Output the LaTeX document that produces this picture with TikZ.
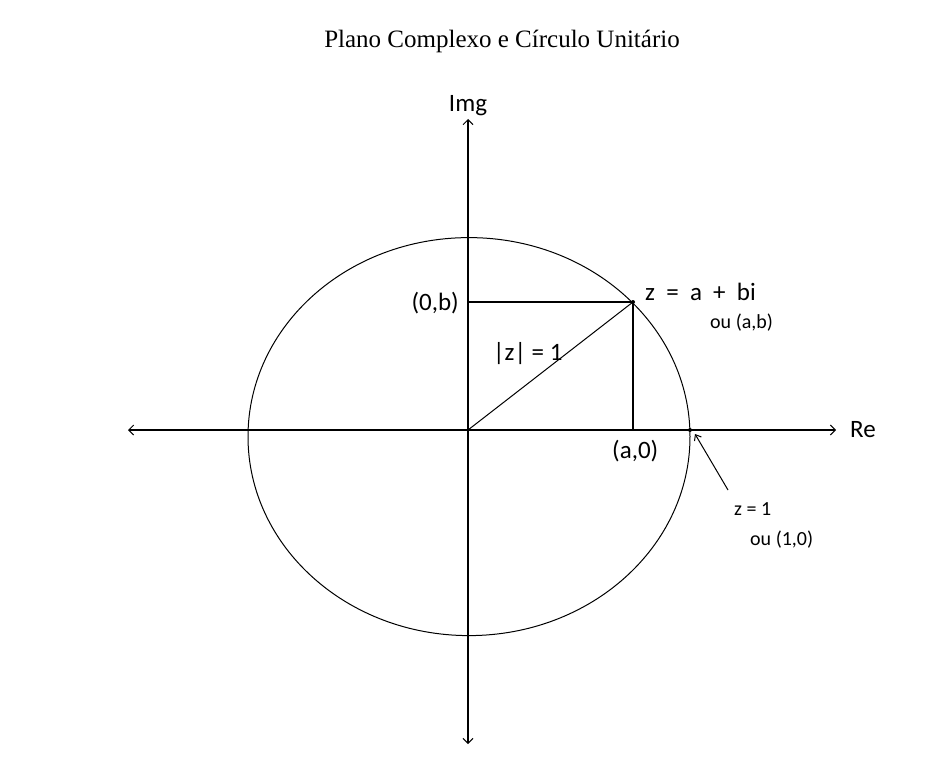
\documentclass[tikz,border=0pt]{standalone}
\usepackage{fontspec}
\setmainfont{Liberation Serif}
\newfontfamily\labfont{Carlito}
\usetikzlibrary{arrows.meta}
\begin{document}
\begin{tikzpicture}[x=1pt,y=-1pt,
  axis/.style={line width=1.3pt,-{Straight Barb[length=5pt,width=10pt,line width=1pt]}},
  guide/.style={line width=1.3pt},
  big/.style={inner sep=0pt,font=\labfont\fontsize{25}{30}\selectfont},
  small/.style={inner sep=0pt,font=\labfont\fontsize{20}{24}\selectfont},
  dot/.style={circle,fill=black,inner sep=0pt,minimum size=4pt}]
\useasboundingbox (0,0) rectangle (948,762);
\fill[white] (0,0) rectangle (948,762);
% title
\node[anchor=base,inner sep=0pt,font=\fontsize{25}{30}\selectfont] (title) at (502,48) {Plano Complexo e Círculo Unitário};
% coordinates
\coordinate (O) at (468,430);
\coordinate (L) at (128,430);
\coordinate (R) at (836,430);
\coordinate (T) at (468,119);
\coordinate (Bt) at (468,744);
\coordinate (A) at (633,430);
\coordinate (B) at (468,302);
% ellipse
\draw[line width=1pt] (469,436.6) ellipse [x radius=221, y radius=199];
% axes
\draw[axis] (O) -- (R);
\draw[axis] (O) -- (L);
\draw[axis] (O) -- (T);
\draw[axis] (O) -- (Bt);
% point z
\node[dot] (Z) at (633,302) {};
\node[dot] (one) at (690,430) {};
\draw[guide] (B) -- (Z.center);
\draw[guide] (A) -- (Z.center);
\draw[line width=1pt] (O) -- (Z.center);
% labels
\node[big,anchor=base] (img) at (468,112) {Img};
\node[big,anchor=base west] (re) at (850,437) {Re};
\node[big,anchor=base east] (zb) at (459,310) {(0,b)};
\node[big,anchor=base west] (zlabel) at (645,300) {z\hspace{0.45em}=\hspace{0.45em}a\hspace{0.45em}+\hspace{0.45em}bi};
\node[small,anchor=base west] (zab) at (710,328) {ou (a,b)};
\node[big,anchor=base west] (modz) at (493,360) {|z| = 1};
\node[big,anchor=base west] (a0) at (612,458) {(a,0)};
\node[small,anchor=base west] (z1) at (734,515) {z = 1};
\node[small,anchor=base west] (z1b) at (750,545) {ou (1,0)};
\coordinate (tail) at (728,490);
\draw[line width=1pt,-{Straight Barb[length=5pt,width=8pt,line width=1pt]}] (tail) -- (695,434);
\end{tikzpicture}
\end{document}
